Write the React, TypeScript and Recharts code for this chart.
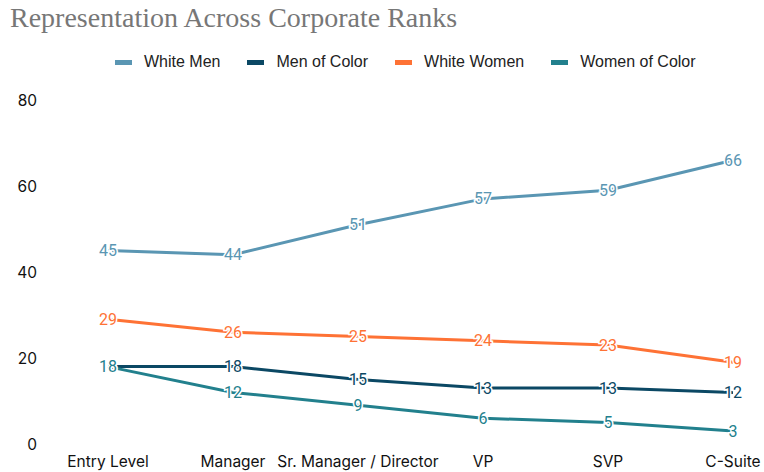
import { LineChart, Line, XAxis, YAxis, Legend, LabelList } from "recharts";

const ranks = ["Entry Level", "Manager", "Sr. Manager / Director", "VP", "SVP", "C-Suite"];
const whiteMen = [45, 44, 51, 57, 59, 66];
const menOfColor = [18, 18, 15, 13, 13, 12];
const whiteWomen = [29, 26, 25, 24, 23, 19];
const womenOfColor = [18, 12, 9, 6, 5, 3];
const yTicks = [0, 20, 40, 60, 80];

const series = [
    { key: "whiteMen", name: "White Men", color: "#5a96b3" },
    { key: "menOfColor", name: "Men of Color", color: "#0b4864" },
    { key: "whiteWomen", name: "White Women", color: "#fe7235" },
    { key: "womenOfColor", name: "Women of Color", color: "#22808d" },
];

const data = ranks.map((rank, i) => ({
    rank,
    whiteMen: whiteMen[i],
    menOfColor: menOfColor[i],
    whiteWomen: whiteWomen[i],
    womenOfColor: womenOfColor[i],
}));

// value labels sit right on the point, with a white halo
const makeLabel = (color: string) => (props: any) => {
    const { x, y, value } = props;
    return (
        <text
            x={x}
            y={y}
            textAnchor="middle"
            dominantBaseline="central"
            fill={color}
            stroke="#fff"
            strokeWidth={3}
            paintOrder="stroke"
            fontFamily="Roboto"
            fontSize={16}
        >
            {value}
        </text>
    );
};

const LegendRow = () => (
    <div style={{ display: "flex", paddingLeft: 115, height: 20, alignItems: "center", fontFamily: "'Liberation Sans', Arial", fontSize: 16, color: "#222" }}>
        {series.map((s) => (
            <div key={s.key} style={{ display: "flex", alignItems: "center", marginRight: 27 }}>
                <span style={{ width: 17, height: 5, background: s.color, marginRight: 12 }} />
                {s.name}
            </div>
        ))}
    </div>
);

const App = () => {
    return (
        <div style={{ position: "absolute", left: 0, top: 0, width: 764, height: 472, background: "#fff" }}>
            <div style={{ position: "absolute", left: 10, top: 2, fontFamily: "'Liberation Serif', serif", fontSize: 28, color: "#777" }}>
                Representation Across Corporate Ranks
            </div>
            <LineChart width={764} height={472} data={data} margin={{ top: 80, right: 31, bottom: 0, left: 0 }}>
                <XAxis
                    dataKey="rank"
                    axisLine={false}
                    tickLine={false}
                    tickSize={0}
                    tickMargin={12}
                    height={28}
                    padding={{ left: 63, right: 0 }}
                    interval={0}
                    tick={{ fill: "#111", fontFamily: "Inter", fontSize: 15.5 }}
                />
                <YAxis
                    domain={[0, 80]}
                    ticks={yTicks}
                    axisLine={false}
                    tickLine={false}
                    tickSize={0}
                    tickMargin={8}
                    width={45}
                    tick={{ fill: "#111", fontFamily: "Inter", fontSize: 15.5 }}
                />
                <Legend verticalAlign="top" content={<LegendRow />} wrapperStyle={{ top: 52, left: 0 }} />
                {series.map((s) => (
                    <Line
                        key={s.key}
                        dataKey={s.key}
                        name={s.name}
                        stroke={s.color}
                        strokeWidth={3}
                        dot={false}
                        isAnimationActive={false}
                    >
                        <LabelList dataKey={s.key} content={makeLabel(s.color)} />
                    </Line>
                ))}
            </LineChart>
        </div>
    );
};

export default App;
